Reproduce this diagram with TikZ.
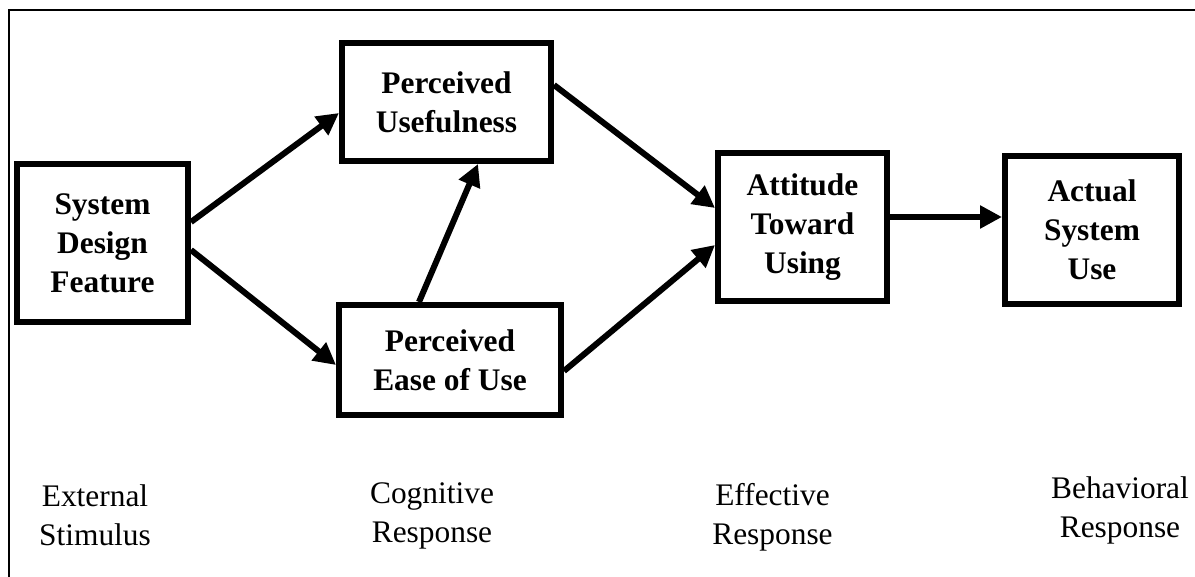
\documentclass[tikz,border=0pt]{standalone}
\usepackage{fontspec}
\setmainfont{Liberation Serif}
\usetikzlibrary{arrows.meta,positioning}

\begin{document}
\begin{tikzpicture}[x=0.5pt, y=-0.5pt,
    box/.style={draw, rectangle, line width=3pt, align=center, inner sep=0pt, font=\bfseries\fontsize{15.7}{19.5}\selectfont},
    stage/.style={align=center, anchor=base, font=\fontsize{15.7}{19.5}\selectfont},
    flow/.style={line width=3pt, -{Triangle[length=11pt, width=11pt]}}]
\useasboundingbox (0,0) rectangle (1195,577);

% frame
\draw[line width=1.25pt] (1195,10) -- (9,10) -- (9,577);

% external stimulus
\node[box, minimum width=85.5pt, minimum height=79pt] (design-feature) at (102.5,243) {System\\Design\\Feature};

% cognitive response
\node[box, minimum width=104.5pt, minimum height=59pt, right=74pt of design-feature, yshift=70.5pt] (usefulness) {Perceived\\Usefulness};
\node[box, minimum width=111pt, minimum height=55pt, right=72.5pt of design-feature, yshift=-58.5pt] (ease-of-use) {Perceived\\Ease of Use};

% affective and behavioral response
\node[box, minimum width=84.5pt, minimum height=74pt, right=80.5pt of usefulness, yshift=-62.5pt] (attitude) {Attitude\\Toward\\Using};
\node[box, minimum width=87pt, minimum height=74pt, right=56pt of attitude, yshift=-1.5pt] (actual-use) {Actual\\System\\Use};

% arrows
\draw[flow] ([yshift=10.5pt]design-feature.east) -- ([yshift=-5.5pt]usefulness.west);
\draw[flow] ([yshift=-3.5pt]design-feature.east) -- ([yshift=-2.5pt]ease-of-use.west);
\draw[flow] ([xshift=-15.5pt]ease-of-use.north) -- ([xshift=15.75pt]usefulness.south);
\draw[flow] ([yshift=8.5pt]usefulness.east) -- ([yshift=9.5pt]attitude.west);
\draw[flow] ([yshift=-5.5pt]ease-of-use.east) -- ([yshift=-9pt]attitude.west);
\draw[flow] ([yshift=5pt]attitude.east) -- ([yshift=6.5pt]actual-use.west);

% stage labels
\node[stage] (stage-external) at (95,545) {External\\Stimulus};
\node[stage] (stage-cognitive) at (432,542) {Cognitive\\Response};
\node[stage] (stage-effective) at (772.5,544) {Effective\\Response};
\node[stage] (stage-behavioral) at (1120,537) {Behavioral\\Response};

\end{tikzpicture}
\end{document}
